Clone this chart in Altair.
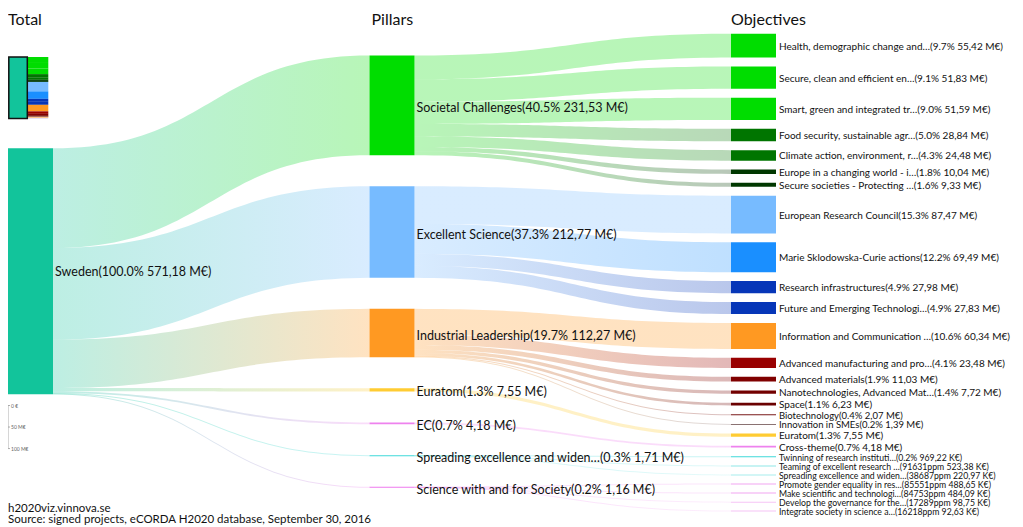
import altair as alt
import pandas as pd
import numpy as np

# ---------------- data ----------------
TOTAL_NAME = "Sweden"
TOTAL_VALUE = 571.18
TOTAL_SHARE = "100.0%"
TOTAL_AMOUNT = "571,18 M€"
TOTAL_COLOR = "#12C49B"

PILLARS = ["Societal Challenges", "Excellent Science", "Industrial Leadership", "Euratom", "EC",
           "Spreading excellence and widen…", "Science with and for Society"]
PILLAR_VALUES = [231.53, 212.77, 112.27, 7.55, 4.18, 1.71, 1.16]
PILLAR_SHARES = ["40.5%", "37.3%", "19.7%", "1.3%", "0.7%", "0.3%", "0.2%"]
PILLAR_AMOUNTS = ["231,53 M€", "212,77 M€", "112,27 M€", "7,55 M€", "4,18 M€", "1,71 M€", "1,16 M€"]
PILLAR_COLORS = ["#00DD00", "#77BBFF", "#FF9922", "#FFCC33", "#EE82EE", "#3FD9D9", "#EE7AEE"]

OBJECTIVES = [
    "Health, demographic change and…", "Secure, clean and efficient en…", "Smart, green and integrated tr…",
    "Food security, sustainable agr…", "Climate action, environment, r…", "Europe in a changing world - i…",
    "Secure societies - Protecting …",
    "European Research Council", "Marie Sklodowska-Curie actions", "Research infrastructures",
    "Future and Emerging Technologi…",
    "Information and Communication …", "Advanced manufacturing and pro…", "Advanced materials",
    "Nanotechnologies, Advanced Mat…", "Space", "Biotechnology", "Innovation in SMEs",
    "Euratom", "Cross-theme",
    "Twinning of research instituti…", "Teaming of excellent research …", "Spreading excellence and widen…",
    "Promote gender equality in res…", "Make scientific and technologi…", "Develop the governance for the…",
    "Integrate society in science a…",
]
OBJECTIVE_VALUES = [55.42, 51.83, 51.59, 28.84, 24.48, 10.04, 9.33,
                    87.47, 69.49, 27.98, 27.83,
                    60.34, 23.48, 11.03, 7.72, 6.23, 2.07, 1.39,
                    7.55, 4.18,
                    0.96922, 0.52338, 0.22097,
                    0.48865, 0.48409, 0.09875, 0.09263]
OBJECTIVE_SHARES = ["9.7%", "9.1%", "9.0%", "5.0%", "4.3%", "1.8%", "1.6%",
                    "15.3%", "12.2%", "4.9%", "4.9%",
                    "10.6%", "4.1%", "1.9%", "1.4%", "1.1%", "0.4%", "0.2%",
                    "1.3%", "0.7%",
                    "0.2%", "91631ppm", "38687ppm",
                    "85551ppm", "84753ppm", "17289ppm", "16218ppm"]
OBJECTIVE_AMOUNTS = ["55,42 M€", "51,83 M€", "51,59 M€", "28,84 M€", "24,48 M€", "10,04 M€", "9,33 M€",
                     "87,47 M€", "69,49 M€", "27,98 M€", "27,83 M€",
                     "60,34 M€", "23,48 M€", "11,03 M€", "7,72 M€", "6,23 M€", "2,07 M€", "1,39 M€",
                     "7,55 M€", "4,18 M€",
                     "969,22 K€", "523,38 K€", "220,97 K€",
                     "488,65 K€", "484,09 K€", "98,75 K€", "92,63 K€"]
OBJECTIVE_PILLAR = [0] * 7 + [1] * 4 + [2] * 7 + [3] + [4] + [5] * 3 + [6] * 4
OBJECTIVE_COLORS = ["#00DD00", "#00DD00", "#00DD00", "#007500", "#007500", "#003800", "#003800",
                    "#77BBFF", "#1A8FFF", "#0636B8", "#0636B8",
                    "#FF9922", "#990000", "#800000", "#720000", "#6A0000", "#7A1A1A", "#8A7272",
                    "#FFCC33", "#EE82EE",
                    "#3FD9D9", "#8FE8E8", "#A8EEEE",
                    "#F2A6F2", "#F2A6F2", "#F6C4F6", "#F6C4F6"]

COLUMN_TITLES = ["Total", "Pillars", "Objectives"]
SCALE_TICKS = [0, 50, 100]
SCALE_LABELS = ["0 €", "50 M€", "100 M€"]
FOOTER = ["h2020viz.vinnova.se", "Source: signed projects, eCORDA H2020 database, September 30, 2016"]

# ---------------- layout (value units = M€ on y, column units on x) ----------------
W_PX, H_PX = 1007, 519
PX_PER_MEUR = 0.4307
Y_MAX = H_PX / PX_PER_MEUR
COL_STEP_PX = 361.5
X_MAX = W_PX / COL_STEP_PX
NODE_W = 45 / COL_STEP_PX
MIN_T = 1.0 / PX_PER_MEUR        # minimum drawn thickness: 1px

TOTAL_TOP = 140.3 / PX_PER_MEUR
PILLAR_TOP = 47.5 / PX_PER_MEUR
PILLAR_GAP = 31.0 / PX_PER_MEUR
OBJ_TOP = 25.7 / PX_PER_MEUR
OBJ_GAP = 8.9 / PX_PER_MEUR
MINI_TOP = 49.0 / PX_PER_MEUR
MINI_K = 0.25
FONT = "Lato"

xs = alt.Scale(domain=[0, X_MAX], nice=False, zero=False)
ys = alt.Scale(domain=[0, Y_MAX], reverse=True, nice=False, zero=False)
X = lambda f: alt.X(f, type="quantitative", scale=xs, axis=None)
Y = lambda f: alt.Y(f, type="quantitative", scale=ys, axis=None)


def widen(a, b):
    if b - a < MIN_T:
        c = (a + b) / 2
        return c - MIN_T / 2, c + MIN_T / 2
    return a, b


# nodes
node_rows = []
node_rows.append(dict(x=0, x2=NODE_W, y=TOTAL_TOP, y2=TOTAL_TOP + TOTAL_VALUE, c=TOTAL_COLOR))
pillar_y = []
y = PILLAR_TOP
for v, c in zip(PILLAR_VALUES, PILLAR_COLORS):
    pillar_y.append(y)
    a, b = widen(y, y + v)
    node_rows.append(dict(x=1, x2=1 + NODE_W, y=a, y2=b, c=c))
    y += v + PILLAR_GAP
obj_y = []
y = OBJ_TOP
for v, c in zip(OBJECTIVE_VALUES, OBJECTIVE_COLORS):
    obj_y.append(y)
    a, b = widen(y, y + v)
    node_rows.append(dict(x=2, x2=2 + NODE_W, y=a, y2=b, c=c))
    y += v + OBJ_GAP
nodes_df = pd.DataFrame(node_rows)


def ribbon(x0, x1, y0t, y0b, y1t, y1b, n=48):
    t = np.linspace(0, 1, n)
    xm = (x0 + x1) / 2
    bx = (1 - t) ** 3 * x0 + 3 * (1 - t) ** 2 * t * xm + 3 * (1 - t) * t ** 2 * xm + t ** 3 * x1
    w = (1 - t) ** 3 + 3 * (1 - t) ** 2 * t
    yt = y0t * w + y1t * (1 - w)
    yb = y0b * w + y1b * (1 - w)
    if (y0b - y0t) < MIN_T:
        c = (yt + yb) / 2
        yt, yb = c - MIN_T / 2, c + MIN_T / 2
    return pd.DataFrame(dict(x=bx, y=yt, y2=yb))


def link_layer(df, c0, c1):
    grad = alt.Gradient(gradient="linear",
                        stops=[alt.GradientStop(color=c0, offset=0), alt.GradientStop(color=c1, offset=1)],
                        x1=0, x2=1, y1=0, y2=0)
    return alt.Chart(df).mark_area(orient="vertical", color=grad, opacity=0.28).encode(
        x=X("x"), y=Y("y"), y2="y2")


layers = []
# Sweden -> pillars
sy = TOTAL_TOP
for i, v in enumerate(PILLAR_VALUES):
    df = ribbon(NODE_W, 1, sy, sy + v, pillar_y[i], pillar_y[i] + v)
    layers.append(link_layer(df, TOTAL_COLOR, PILLAR_COLORS[i]))
    sy += v
# pillars -> objectives
offs = list(pillar_y)
for j, v in enumerate(OBJECTIVE_VALUES):
    p = OBJECTIVE_PILLAR[j]
    df = ribbon(1 + NODE_W, 2, offs[p], offs[p] + v, obj_y[j], obj_y[j] + v)
    layers.append(link_layer(df, PILLAR_COLORS[p], OBJECTIVE_COLORS[j]))
    offs[p] += v

# nodes layer
layers.append(alt.Chart(nodes_df).mark_rect().encode(
    x=X("x"), x2="x2", y=Y("y"), y2="y2", color=alt.Color("c:N", scale=None)))

# mini map
mini_rows = []
y = MINI_TOP
for v, c in zip(OBJECTIVE_VALUES, OBJECTIVE_COLORS):
    mini_rows.append(dict(x=19.3 / COL_STEP_PX, x2=40.3 / COL_STEP_PX, y=y, y2=y + v * MINI_K, c=c))
    y += v * MINI_K
mini_df = pd.DataFrame(mini_rows)
layers.append(alt.Chart(mini_df).mark_rect().encode(
    x=X("x"), x2="x2", y=Y("y"), y2="y2", color=alt.Color("c:N", scale=None)))
mini_box = pd.DataFrame([dict(x=0.8 / COL_STEP_PX, x2=19.3 / COL_STEP_PX, y=MINI_TOP,
                              y2=MINI_TOP + TOTAL_VALUE * MINI_K)])
layers.append(alt.Chart(mini_box).mark_rect(fill=TOTAL_COLOR, stroke="#111", strokeWidth=1.5).encode(
    x=X("x"), x2="x2", y=Y("y"), y2="y2"))

# labels
lab_rows = [dict(x=NODE_W, y=TOTAL_TOP + TOTAL_VALUE / 2,
                 t=f"{TOTAL_NAME}({TOTAL_SHARE} {TOTAL_AMOUNT})", s=12.5)]
big_df = pd.DataFrame(lab_rows)
layers.append(alt.Chart(big_df).mark_text(align="left", baseline="middle", dx=2, dy=1, font=FONT,
                                          color="#111").encode(
    x=X("x"), y=Y("y"), text="t:N", size=alt.Size("s:Q", scale=None)))

pil_rows = []
for i, n in enumerate(PILLARS):
    pil_rows.append(dict(x=1 + NODE_W, y=pillar_y[i] + PILLAR_VALUES[i] / 2,
                         t=f"{n}({PILLAR_SHARES[i]} {PILLAR_AMOUNTS[i]})", s=12.5))
pil_df = pd.DataFrame(pil_rows)
layers.append(alt.Chart(pil_df).mark_text(align="left", baseline="middle", dx=2, dy=2.5, font=FONT,
                                          color="#111").encode(
    x=X("x"), y=Y("y"), text="t:N", size=alt.Size("s:Q", scale=None)))

obj_rows = []
for j, n in enumerate(OBJECTIVES):
    v = OBJECTIVE_VALUES[j]
    s = 10.0 if v >= 3 else (9.5 if v >= 1 else 8.7)
    obj_rows.append(dict(x=2 + NODE_W, y=obj_y[j] + v / 2,
                         t=f"{n}({OBJECTIVE_SHARES[j]} {OBJECTIVE_AMOUNTS[j]})", s=s))
obj_df = pd.DataFrame(obj_rows)
layers.append(alt.Chart(obj_df).mark_text(align="left", baseline="middle", dx=3, dy=1, font=FONT,
                                          color="#111").encode(
    x=X("x"), y=Y("y"), text="t:N", size=alt.Size("s:Q", scale=None)))

# column titles
title_df = pd.DataFrame(dict(x=[0, 1 + 2 / COL_STEP_PX, 2], y=[11.5 / PX_PER_MEUR] * 3, t=COLUMN_TITLES))
layers.append(alt.Chart(title_df).mark_text(align="left", baseline="middle", fontSize=16, font=FONT,
                                            color="#111").encode(
    x=X("x"), y=Y("y"), text="t:N"))

# scale legend
SCALE_TOP = 397.5 / PX_PER_MEUR
sx = 0.0
scale_line = pd.DataFrame(dict(x=[sx], y=[SCALE_TOP], y2=[SCALE_TOP + SCALE_TICKS[-1]]))
layers.append(alt.Chart(scale_line).mark_rule(color="#999", strokeWidth=0.8).encode(
    x=X("x"), y=Y("y"), y2="y2"))
tick_df = pd.DataFrame(dict(x=[sx] * 3, x2=[sx + 2.0 / COL_STEP_PX] * 3,
                            y=[SCALE_TOP + t for t in SCALE_TICKS], t=SCALE_LABELS))
layers.append(alt.Chart(tick_df).mark_rule(color="#999", strokeWidth=0.8).encode(
    x=X("x"), x2="x2", y=Y("y")))
layers.append(alt.Chart(tick_df).mark_text(align="left", baseline="middle", fontSize=5, font=FONT,
                                           color="#666", dx=3).encode(
    x=X("x"), y=Y("y"), text="t:N"))

# footer
foot_df = pd.DataFrame(dict(x=[0, 0], y=[501 / PX_PER_MEUR, 512 / PX_PER_MEUR], t=FOOTER))
layers.append(alt.Chart(foot_df).mark_text(align="left", baseline="middle", fontSize=11.5, font=FONT,
                                           color="#111").encode(
    x=X("x"), y=Y("y"), text="t:N"))

chart = alt.layer(*layers).properties(
    width=W_PX, height=H_PX, padding=0, autosize=alt.AutoSizeParams(type="none")
).configure_view(stroke=None)

chart.save("out.html", embed_options={"renderer": "svg", "actions": False})
